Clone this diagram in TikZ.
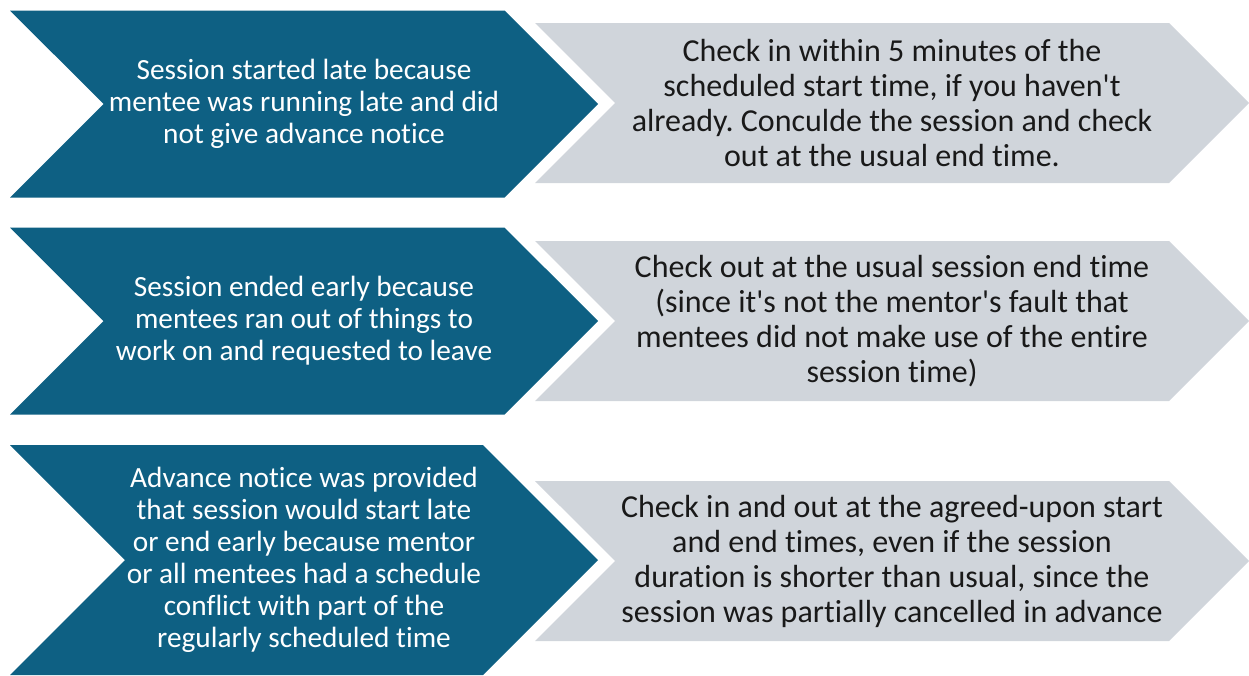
\documentclass[tikz,border=0pt]{standalone}
\usepackage{fontspec}
\setmainfont{Carlito}[Ligatures=NoCommon]
\frenchspacing
\usetikzlibrary{shapes.symbols}
\definecolor{casedark}{HTML}{0E6083}
\definecolor{actiongray}{HTML}{D0D5DB}

\begin{document}
\begin{tikzpicture}[x=1pt, y=-1pt,
    casebox/.style={shape=signal, signal from=west, signal to=east,
    signal pointer angle=90, fill=casedark, text=white, inner sep=0pt,
    minimum width=588pt, align=center,
    font=\fontsize{29.3}{32}\selectfont},
    actionbox/.style={shape=signal, signal from=west, signal to=east,
    signal pointer angle=90, fill=actiongray, text=black!90, inner sep=0pt,
    minimum width=714pt, minimum height=160pt, align=center,
    font=\fontsize{32}{35}\selectfont},
    ]
    \useasboundingbox (0,0) rectangle (1249,675);

    % left column: what happened
    \node[casebox, minimum height=187pt] (late) at (304,104)
        {Session started late because\\mentee was running late and did\\not give advance notice};
    \node[casebox, minimum height=187pt] (early) at (304,321)
        {Session ended early because\\mentees ran out of things to\\work on and requested to leave};
    \node[casebox, minimum height=230pt] (notice) at (304,560)
        {Advance notice was provided\\that session would start late\\or end early because mentor\\or all mentees had a schedule\\conflict with part of the\\regularly scheduled time};

    % right column: what to do
    \node[actionbox] (lateact) at (892,103)
        {Check in within 5 minutes of the\\scheduled start time, if you haven\textquotesingle t\\already. Conculde the session and check\\out at the usual end time.};
    \node[actionbox] (earlyact) at (892,321)
        {Check out at the usual session end time\\(since it\textquotesingle s not the mentor\textquotesingle s fault that\\mentees did not make use of the entire\\session time)};
    \node[actionbox] (noticeact) at (892,561)
        {Check in and out at the agreed-upon start\\and end times, even if the session\\duration is shorter than usual, since the\\session was partially cancelled in advance};
\end{tikzpicture}
\end{document}
